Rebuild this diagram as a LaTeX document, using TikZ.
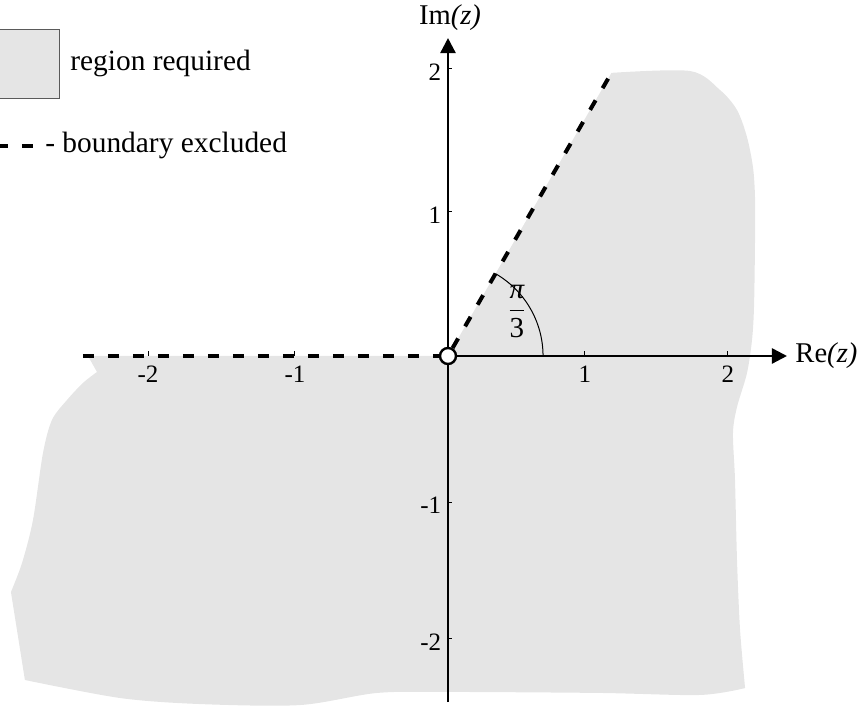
\documentclass[tikz,border=0pt]{standalone}
\usepackage{amsmath}
\usepackage{fontspec}
\setmainfont{Liberation Serif}
\usetikzlibrary{arrows.meta}
\definecolor{RegionGray}{RGB}{229,229,229}
\definecolor{KeyEdge}{RGB}{90,90,90}

\begin{document}
\begin{tikzpicture}[x=72pt,y=72pt,axis/.style={line width=1.2pt},bnd/.style={line width=2pt,dash pattern=on 5.5pt off 7pt},tck/.style={line width=0.5pt},lbl/.style={font=\fontsize{12.5}{14}\selectfont,inner sep=0pt},big/.style={font=\fontsize{14.7}{17}\selectfont,inner sep=0pt},ax/.style={font=\fontsize{14.3}{17}\selectfont,inner sep=0pt},tip/.style={-{Triangle[length=7.5pt,width=7.5pt]}}]
\useasboundingbox (-3.111,-2.431) rectangle (2.854,2.472);
\fill[RegionGray] (0,0) -- (60:2.27)
   -- plot[smooth] coordinates {(1.135,1.966) (1.681,1.979) (1.889,1.847) (2.007,1.708) (2.076,1.521) (2.118,1.31) (2.132,1.1) (2.132,0.8) (2.125,0.34) (2.111,0.11) (2.076,-0.12) (2.007,-0.354) (1.979,-0.535) (1.993,-0.86) (2.007,-1.42) (2.028,-1.9) (2.063,-2.306)}
   -- plot[smooth] coordinates {(2.063,-2.306) (1.75,-2.354) (1.056,-2.34) (0.014,-2.333) (-0.493,-2.34) (-1.028,-2.424) (-1.722,-2.417) (-2.278,-2.375) (-2.938,-2.25)}
   -- (-3.035,-1.639)
   -- plot[smooth] coordinates {(-3.035,-1.639) (-2.958,-1.4375) (-2.882,-1.139) (-2.8125,-0.674) (-2.75,-0.444) (-2.646,-0.306) (-2.535,-0.1875) (-2.4375,-0.111)}
   -- (-2.5,0) -- cycle;
% key
\node[draw=KeyEdge,fill=RegionGray,line width=0.5pt,minimum width=35pt,minimum height=34.5pt,inner sep=0pt] (key) at (-2.944,2.0245) {};
\node[big,anchor=base west] (keytext) at (-2.625,1.979) {region required};
\coordinate (dashA) at (-3.132,1.458);
\coordinate (dashB) at (-2.882,1.458);
\draw[bnd] (dashA) -- (dashB);
\node[big,anchor=base west] (dashtext) at (-2.799,1.41) {- boundary excluded};
% axes
\coordinate (ybot) at (0,-2.403);
\coordinate (ytop) at (0,2.208);
\coordinate (xleft) at (-2.535,0);
\coordinate (xright) at (2.354,0);
\coordinate (ray) at (60:2.24);
\draw[axis,tip] (ybot) -- (ytop);
\draw[axis,tip] (0,0) -- (xright);
\foreach \x/\l in {-2.083/-2,-1.0625/-1,0.951/1,1.944/2} {
   \draw[tck] (\x,0) -- ++(0,0.035);
   \node[lbl] (xt\l) at (\x,-0.13) {\l};
}
\foreach \y/\l in {1.993/2,1.0/1,-1.014/-1,-1.965/-2} {
   \draw[tck] (0,\y) -- ++(0.03,0);
   \node[lbl,anchor=east] (yt\l) at (-0.045,\y-0.02) {\l};
}
\node[circle,draw,fill=white,line width=1.2pt,minimum size=8pt,inner sep=0pt] (origin) at (0,0) {};
\draw[bnd] (xleft) -- (origin);
\draw[bnd] (origin) -- (ray);
\draw[tck] (0.66,0) arc[start angle=0,end angle=60,radius=0.66];
\node[ax,font=\fontsize{14.5}{17}\selectfont] (angle) at (0.479,0.31) {$\dfrac{\textnormal{\itshape π}}{\textnormal{3}}$};
\node[ax,anchor=west] (relbl) at (2.41,0) {Re\textit{(z)}};
\node[ax] (imlbl) at (0.014,2.347) {Im\textit{(z)}};
\end{tikzpicture}
\end{document}
